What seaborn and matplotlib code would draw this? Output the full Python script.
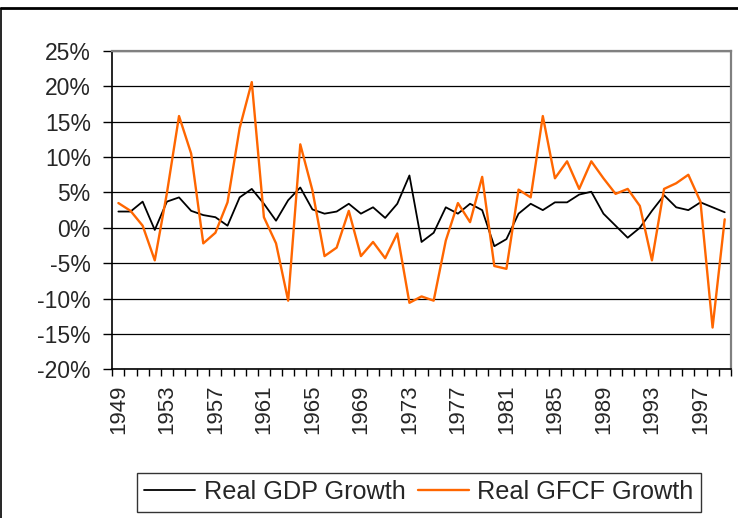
"""
Real GDP growth vs real GFCF growth, 1949-1999, Excel-style line chart.
"""

import matplotlib

matplotlib.use("Agg")

import matplotlib.pyplot as plt
import pandas as pd
import seaborn as sns
from matplotlib.lines import Line2D
from matplotlib.ticker import FixedLocator, FuncFormatter

years = list(range(1949, 2000))

gdp_growth = [
    2.3, 2.3, 3.7, -0.3, 3.7, 4.3, 2.4, 1.8, 1.5, 0.3,
    4.3, 5.5, 3.4, 1.0, 3.9, 5.7, 2.6, 2.0, 2.3, 3.4,
    2.0, 2.9, 1.4, 3.4, 7.4, -2.0, -0.7, 2.9, 2.0, 3.4,
    2.5, -2.6, -1.6, 2.0, 3.4, 2.5, 3.6, 3.6, 4.7, 5.1,
    2.0, 0.3, -1.4, 0.0, 2.4, 4.6, 2.9, 2.5, 3.6, 2.9,
    2.2,
]

gfcf_growth = [
    3.5, 2.4, 0.3, -4.6, 4.9, 15.8, 10.5, -2.2, -0.7, 3.6,
    14.1, 20.6, 1.5, -2.2, -10.3, 11.8, 5.3, -4.0, -2.8, 2.4,
    -4.0, -2.0, -4.3, -0.8, -10.6, -9.7, -10.3, -1.8, 3.5, 0.8,
    7.2, -5.4, -5.8, 5.4, 4.3, 15.8, 7.0, 9.4, 5.5, 9.4,
    7.0, 4.8, 5.5, 3.1, -4.6, 5.5, 6.3, 7.5, 3.7, -14.1,
    1.2,
]

y_ticks = [-20, -15, -10, -5, 0, 5, 10, 15, 20, 25]
label_years = list(range(1949, 2000, 4))

GDP_LABEL = "Real GDP Growth"
GFCF_LABEL = "Real GFCF Growth"
GDP_COLOR = "black"
GFCF_COLOR = "#FF6600"


def main() -> None:
    sns.set_theme(style="white")
    plt.rcParams["font.family"] = ["Liberation Sans", "DejaVu Sans"]

    df = pd.DataFrame({"year": years, "gdp": gdp_growth, "gfcf": gfcf_growth})

    fig = plt.figure(figsize=(7.38, 5.18), dpi=100)
    ax = fig.add_axes([0.1522, 0.2871, 0.8380, 0.6145])

    sns.lineplot(data=df, x="year", y="gdp", ax=ax, color=GDP_COLOR, linewidth=1.3, zorder=3)
    sns.lineplot(data=df, x="year", y="gfcf", ax=ax, color=GFCF_COLOR, linewidth=1.7, zorder=4)

    ax.set_xlim(years[0] - 0.5, years[-1] + 0.5)
    ax.set_ylim(y_ticks[0], y_ticks[-1])
    ax.set_xlabel("")
    ax.set_ylabel("")

    ax.yaxis.set_major_locator(FixedLocator(y_ticks))
    ax.yaxis.set_major_formatter(FuncFormatter(lambda v, _: f"{v:.0f}%"))
    ax.yaxis.grid(True, color="black", linewidth=0.9)
    ax.set_axisbelow(True)

    # labels sit on category centres, tick marks fall between categories
    ax.xaxis.set_major_locator(FixedLocator(label_years))
    ax.xaxis.set_major_formatter(FuncFormatter(lambda v, _: f"{v:.0f}"))
    ax.xaxis.set_minor_locator(FixedLocator([y - 0.5 for y in years] + [years[-1] + 0.5]))

    ax.tick_params(axis="y", which="major", direction="out", length=6.5, width=1.0,
                   color="black", pad=9, labelsize=16.5, left=True)
    ax.tick_params(axis="x", which="major", length=0, pad=11, labelsize=16,
                   labelrotation=90)
    ax.tick_params(axis="x", which="minor", direction="out", length=5, width=1.0,
                   color="black", bottom=True)

    for side in ("left", "bottom"):
        ax.spines[side].set_color("black")
        ax.spines[side].set_linewidth(1.2)
    for side in ("top", "right"):
        ax.spines[side].set_color("#808080")
        ax.spines[side].set_linewidth(1.6)

    handles = [
        Line2D([], [], color=GDP_COLOR, linewidth=1.3),
        Line2D([], [], color=GFCF_COLOR, linewidth=1.7),
    ]
    leg = fig.legend(
        handles,
        [GDP_LABEL, GFCF_LABEL],
        loc="center",
        bbox_to_anchor=(0.5676, 0.050),
        ncol=2,
        fontsize=18.2,
        frameon=True,
        fancybox=False,
        handlelength=2.0,
        handletextpad=0.35,
        columnspacing=0.5,
        borderpad=0.3,
    )
    leg.get_frame().set_edgecolor("black")
    leg.get_frame().set_linewidth(1.0)

    # chart area border (left and top edges visible)
    fig.add_artist(Line2D([0.002, 0.002], [0.0, 0.985], transform=fig.transFigure,
                          color="black", linewidth=1.2))
    fig.add_artist(Line2D([0.002, 1.0], [0.985, 0.985], transform=fig.transFigure,
                          color="black", linewidth=2.0))

    fig.savefig("out.png", dpi=100)
    plt.close(fig)


if __name__ == "__main__":
    main()
